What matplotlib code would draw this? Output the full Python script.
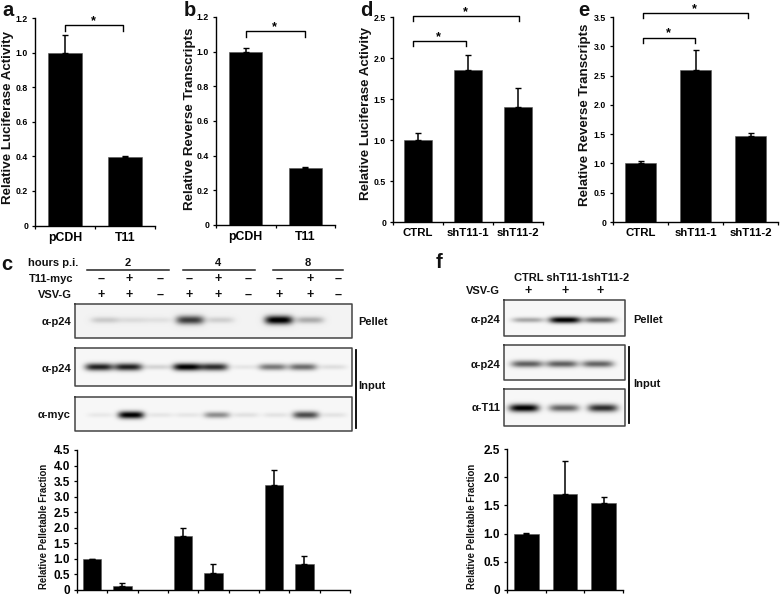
import numpy as np
import matplotlib
matplotlib.use("Agg")
import matplotlib.pyplot as plt

plt.rcParams['font.family'] = ['Liberation Sans', 'DejaVu Sans']
plt.rcParams['font.weight'] = 'bold'

W, H = 780, 596

# ---------- data ----------
a_cats = ["pCDH", "T11"]
a_vals = [1.0, 0.395]
a_errs = [0.10, 0.005]
a_ticks = [0, 0.2, 0.4, 0.6, 0.8, 1.0, 1.2]
a_labels = ["0", "0.2", "0.4", "0.6", "0.8", "1.0", "1.2"]

b_cats = ["pCDH", "T11"]
b_vals = [1.0, 0.33]
b_errs = [0.02, 0.003]

d_cats = ["CTRL", "shT11-1", "shT11-2"]
d_vals = [1.0, 1.85, 1.40]
d_errs = [0.08, 0.19, 0.24]
d_ticks = [0, 0.5, 1.0, 1.5, 2.0, 2.5]
d_labels = ["0", "0.5", "1.0", "1.5", "2.0", "2.5"]

e_cats = ["CTRL", "shT11-1", "shT11-2"]
e_vals = [1.0, 2.6, 1.47]
e_errs = [0.05, 0.33, 0.05]
e_ticks = [0, 0.5, 1.0, 1.5, 2.0, 2.5, 3.0, 3.5]
e_labels = ["0", "0.5", "1.0", "1.5", "2.0", "2.5", "3.0", "3.5"]

c_vals = [1.0, 0.13, 0, 1.72, 0.55, 0, 3.37, 0.83, 0]
c_errs = [0.01, 0.10, 0, 0.28, 0.27, 0, 0.50, 0.27, 0]
c_ticks = [0, 0.5, 1.0, 1.5, 2.0, 2.5, 3.0, 3.5, 4.0, 4.5]
c_labels = ["0", "0.5", "1.0", "1.5", "2.0", "2.5", "3.0", "3.5", "4.0", "4.5"]

f_vals = [1.0, 1.7, 1.55]
f_errs = [0.01, 0.58, 0.10]
f_ticks = d_ticks
f_labels = d_labels

# blot band intensities per lane
c_pellet = [0.16, 0.09, 0.07, 0.72, 0.14, 0.0, 1.0, 0.28, 0.0]
c_input = [0.85, 0.85, 0.14, 1.0, 0.80, 0.07, 0.50, 0.55, 0.10]
c_myc = [0.06, 1.0, 0.07, 0.07, 0.42, 0.09, 0.08, 0.68, 0.08]
f_pellet = [0.32, 1.0, 0.58]
f_input = [0.60, 0.60, 0.58]
f_t11 = [1.0, 0.58, 0.80]

c_row1 = ["–", "+", "–", "–", "+", "–", "–", "+", "–"]
c_row2 = ["+", "+", "–", "+", "+", "–", "+", "+", "–"]

fig = plt.figure(figsize=(W / 100, H / 100), dpi=100, facecolor='white')


def bar_panel(x0, x1, ytop, ybot, ymax, vals, errs, ticks, labels, cats, width, fs, tick_fs):
    ax = fig.add_axes([x0 / W, 1 - ybot / H, (x1 - x0) / W, (ybot - ytop) / H])
    n = len(vals)
    pos = np.arange(n)
    ax.bar(pos, vals, width=width, color='black', edgecolor='#555555', linewidth=0.4)
    for p, v, e in zip(pos, vals, errs):
        if e > 0:
            ax.errorbar([p], [v], yerr=[[0], [e]], color='black', lw=1.1, capsize=2.2,
                        capthick=1.0, fmt='none')
    ax.set_xlim(-0.5, n - 0.5)
    ax.set_ylim(0, ymax)
    ax.set_yticks(ticks, labels=labels, fontsize=tick_fs, fontweight='bold')
    ax.set_xticks(np.arange(n + 1) - 0.5, labels=[])
    if cats:
        ax.set_xticks(pos, labels=cats, minor=True, fontsize=fs, fontweight='bold')
    ax.tick_params(axis='x', which='minor', length=0, pad=4.5)
    ax.tick_params(axis='both', which='major', length=2.5, width=0.9, pad=2.5)
    for s in ('top', 'right'):
        ax.spines[s].set_visible(False)
    for s in ('left', 'bottom'):
        ax.spines[s].set_linewidth(1.0)
    ax.patch.set_alpha(0)
    return ax


bar_panel(35, 155, 18, 225.5, 1.2, a_vals, a_errs, a_ticks, a_labels, a_cats, 0.56, 8.8, 6.3)
bar_panel(216, 335, 17, 225, 1.2, b_vals, b_errs, a_ticks, a_labels, b_cats, 0.56, 8.8, 6.3)
bar_panel(393, 543, 17, 222, 2.5, d_vals, d_errs, d_ticks, d_labels, d_cats, 0.55, 8.2, 6.3)
bar_panel(613, 778, 17, 222, 3.5, e_vals, e_errs, e_ticks, e_labels, e_cats, 0.56, 8.2, 6.3)
bar_panel(77, 350, 450, 590, 4.5, c_vals, c_errs, c_ticks, c_labels, None, 0.6, 8, 8.5)
bar_panel(507, 623, 449, 590, 2.5, f_vals, f_errs, f_ticks, f_labels, None, 0.63, 8, 8.5)

# overlay in pixel space for annotation and blots
ov = fig.add_axes([0, 0, 1, 1], zorder=5)
ov.set_xlim(0, W)
ov.set_ylim(H, 0)
ov.axis('off')
ov.patch.set_alpha(0)


def txt(x, y, s, fs=8, ha='center', va='center', rot=0):
    ov.text(x, y, s, fontsize=fs, ha=ha, va=va, rotation=rot, fontweight='bold', color='#111111')


for x, y, s in [(8, 10, 'a'), (190, 10, 'b'), (7, 264, 'c'), (366, 10, 'd'), (584, 10, 'e'), (439, 262, 'f')]:
    txt(x, y, s, fs=14.5)

for x, y, s in [(8, 118, "Relative Luciferase Activity"), (190, 119, "Relative Reverse Transcripts"),
                (366, 113, "Relative Luciferase Activity"), (585, 115, "Relative Reverse Transcripts")]:
    txt(x, y, s, fs=9.6, rot=90)
for x in (44, 472):
    txt(x, 526, "Relative Pelletable Fraction", fs=6.9, rot=90)


def bracket(x0, x1, top, drop, star_y):
    ov.plot([x0, x0, x1, x1], [top + drop, top, top, top + drop], color='black', lw=1.0,
            solid_joinstyle='round')
    ov.text((x0 + x1) / 2 - 1, star_y, "*", fontsize=9, ha='center', va='center', fontweight='bold')


bracket(65, 123, 25, 6, 21)
bracket(246, 305, 31, 6, 27)
bracket(413, 466, 41, 5, 37)
bracket(413, 519, 16, 5, 12)
bracket(643, 695, 38, 5, 33)
bracket(643, 748, 13, 5, 9)

# panel c headers
txt(28, 263, "hours p.i.", fs=8, ha='left')
txt(73, 279, "T11-myc", fs=8, ha='right')
txt(72, 295, "VSV-G", fs=8, ha='right')
for x, s, l0, l1 in [(128, "2", 87, 169), (218, "4", 183, 255), (308, "8", 273, 343)]:
    txt(x, 263, s, fs=8)
    ov.plot([l0, l1], [270, 270], color='#222222', lw=1.1)
c_sign_x = [101, 129, 160, 189, 218, 248, 279, 310, 338]
for x, a, b in zip(c_sign_x, c_row1, c_row2):
    txt(x, 279, a, fs=9)
    txt(x, 295, b, fs=9)

# panel f headers
txt(572, 278, "CTRL shT11-1shT11-2", fs=8)
txt(500, 291, "VSV-G", fs=8, ha='right')
for x in (528, 565, 600):
    txt(x, 291, "+", fs=9)


def blot(x0, x1, y0, y1, lanes, amps, yc, hw, hh, tilt=0.0, haze=0.04):
    nx, ny = int((x1 - x0) * 2), int((y1 - y0) * 2)
    X, Y = np.meshgrid(np.linspace(x0, x1, nx), np.linspace(y0, y1, ny))
    img = np.zeros_like(X) + haze
    for lx, a in zip(lanes, amps):
        yy = Y - yc - tilt * (X - lx)
        img += a * np.exp(-((X - lx) / hw) ** 4 - (yy / (hh * (0.7 + 0.4 * min(a * 1.4, 1)))) ** 2)
    img = np.clip(img, 0, 1)
    ov.imshow(1 - img, extent=(x0, x1, y1, y0), cmap='gray', vmin=0, vmax=1, aspect='auto',
              interpolation='bilinear', zorder=1)
    ov.plot([x0, x1, x1, x0, x0], [y0, y0, y1, y1, y0], color='#444444', lw=1.1, zorder=2)


blot(75, 352, 304, 338, [105, 132, 158, 190, 220, 248, 279, 310, 338], c_pellet, 320, 14, 4.0, haze=0.05)
blot(75, 352, 348, 386, [99, 128, 157, 187, 214, 245, 273, 303, 333], c_input, 367, 14, 3.4, haze=0.03)
blot(75, 352, 397, 431, [100, 131, 160, 188, 217, 246, 276, 306, 334], c_myc, 415, 13, 3.4, haze=0.03)
blot(504, 625, 300, 336, [528, 565, 600], f_pellet, 320, 16, 3.0, haze=0.03)
blot(504, 625, 345, 380, [527, 562, 598], f_input, 364, 16, 3.4, haze=0.03)
blot(504, 625, 389, 426, [524, 564, 603], f_t11, 408, 15, 3.6, haze=0.03)
ov.set_xlim(0, W)
ov.set_ylim(H, 0)

for y, s in [(322, "α-p24"), (369, "α-p24"), (415, "α-myc")]:
    txt(71, y, s, fs=8, ha='right')
for y, s in [(320, "α-p24"), (365, "α-p24"), (408, "α-T11")]:
    txt(500, y, s, fs=8, ha='right')
txt(358, 322, "Pellet", fs=8, ha='left')
txt(358, 386, "Input", fs=8, ha='left')
txt(633, 320, "Pellet", fs=8, ha='left')
txt(633, 384, "Input", fs=8, ha='left')
ov.plot([356, 356], [350, 428], color='black', lw=1.3)
ov.plot([629, 629], [347, 423], color='black', lw=1.3)

fig.savefig("out.png", dpi=100, facecolor='white')
